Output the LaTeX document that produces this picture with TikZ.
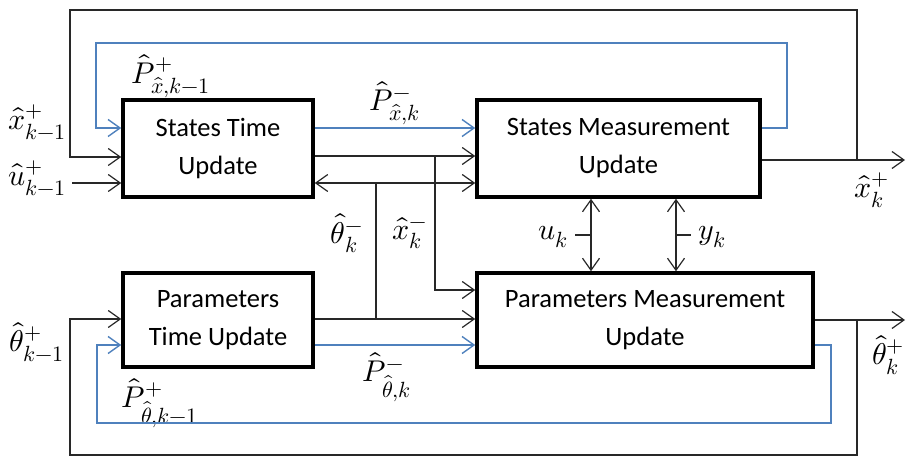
\documentclass[tikz,border=0pt]{standalone}
\usepackage{amsmath}
\usepackage{fontspec}
\usepackage{unicode-math}
\setmainfont{Carlito}
\setmathfont{Latin Modern Math}
\DeclareMathSizes{30}{30}{22}{17}
\usepackage{tikz}
\usetikzlibrary{arrows.meta}
\definecolor{lineblue}{RGB}{79,129,189}
\definecolor{linegray}{RGB}{40,40,40}

\begin{document}
\begin{tikzpicture}[x=1pt, y=-1pt, line width=1.2, >={Straight Barb[length=12pt,width=17pt]},
  block/.style={draw, line width=3.5, align=center, inner sep=0pt,
    font=\fontsize{26.5}{38}\selectfont},
  wire/.style={draw=linegray, line width=1.2},
  bwire/.style={draw=lineblue, line width=1.4},
  mlabel/.style={inner sep=1pt, font=\fontsize{30}{32}\selectfont},
]
\useasboundingbox (0,0) rectangle (906,457);

% blocks
\node[block, minimum width=190, minimum height=97] (STU) at (218,148.5) {States Time\\Update};
\node[block, minimum width=283, minimum height=97] (SMU) at (618.5,148.5) {States Measurement\\Update};
\node[block, minimum width=190, minimum height=94] (PTU) at (218,320) {Parameters\\Time Update};
\node[block, minimum width=336, minimum height=94] (PMU) at (645,320) {Parameters Measurement\\Update};

% labels
\node[mlabel] (Pxprev) at (171,76) {$\hat{P}^{+}_{\hat{x},k-1}$};
\node[mlabel] (xprev) at (37,122) {$\hat{x}^{+}_{k-1}$};
\node[mlabel] (uprev) at (37,178) {$\hat{u}^{+}_{k-1}$};
\node[mlabel] (Pxk) at (395,103) {$\hat{P}^{-}_{\hat{x},k}$};
\node[mlabel] (thk) at (347,233) {$\hat{\theta}^{-}_{k}$};
\node[mlabel] (xk) at (410,233) {$\hat{x}^{-}_{k}$};
\node[mlabel] (uk) at (553,237) {$u_k$};
\node[mlabel] (yk) at (712,237) {$y_k$};
\node[mlabel] (xnext) at (872,190) {$\hat{x}^{+}_{k}$};
\node[mlabel] (thprev) at (37,342) {$\hat{\theta}^{+}_{k-1}$};
\node[mlabel] (Pthk) at (387,377) {$\hat{P}^{-}_{\hat{\theta},k}$};
\node[mlabel] (Pthprev) at (160,403) {$\hat{P}^{+}_{\hat{\theta},k-1}$};
\node[mlabel, anchor=east] (thnext) at (906,355) {$\hat{\theta}^{+}_{k}$};

\coordinate (xtap) at (857,160);
\coordinate (xout) at (905,160);
\coordinate (thtap) at (857,320);
\coordinate (thout) at (905,320);
\coordinate (uin) at (72,183);
\coordinate (xbranch) at (435,156);
\coordinate (thbranch) at (376,183);
\coordinate (ukline) at (591,235);
\coordinate (ykline) at (676,235);

% states loop
\draw[wire, ->] (SMU.east |- xout) -- (xout);
\draw[wire, ->] (xtap) |- (70,10) |- (STU.west |- 0,157);
\draw[bwire, ->] (SMU.east |- 0,128) -- (787,128) |- (96,43) |- (STU.west |- 0,128);
\draw[wire, ->] (uin) -- (STU.west |- uin);

% parameters loop
\draw[wire, ->] (PMU.east |- thout) -- (thout);
\draw[wire, ->] (thtap) |- (70,455) |- (PTU.west |- 0,319);
\draw[bwire, ->] (PMU.east |- 0,345) -- (831,345) |- (97,423) |- (PTU.west |- 0,345);

% between blocks
\draw[bwire, ->] (STU.east |- 0,128) -- (SMU.west |- 0,128);
\draw[wire, ->] (STU.east |- xbranch) -- (SMU.west |- xbranch);
\draw[wire, ->] (xbranch) |- (PMU.west |- 0,290);
\draw[wire, <->] (STU.east |- thbranch) -- (SMU.west |- thbranch);
\draw[wire, ->] (PTU.east |- 0,319) -- (PMU.west |- 0,319);
\draw[wire] (thbranch) -- (thbranch |- 0,319);
\draw[bwire, ->] (PTU.east |- 0,345) -- (PMU.west |- 0,345);

% measurements
\draw[wire, <->] (SMU.south -| ukline) -- (PMU.north -| ukline);
\draw[wire] (575,235) -- (ukline);
\draw[wire, <->] (SMU.south -| ykline) -- (PMU.north -| ykline);
\draw[wire] (ykline) -- (691,235);
\end{tikzpicture}
\end{document}
